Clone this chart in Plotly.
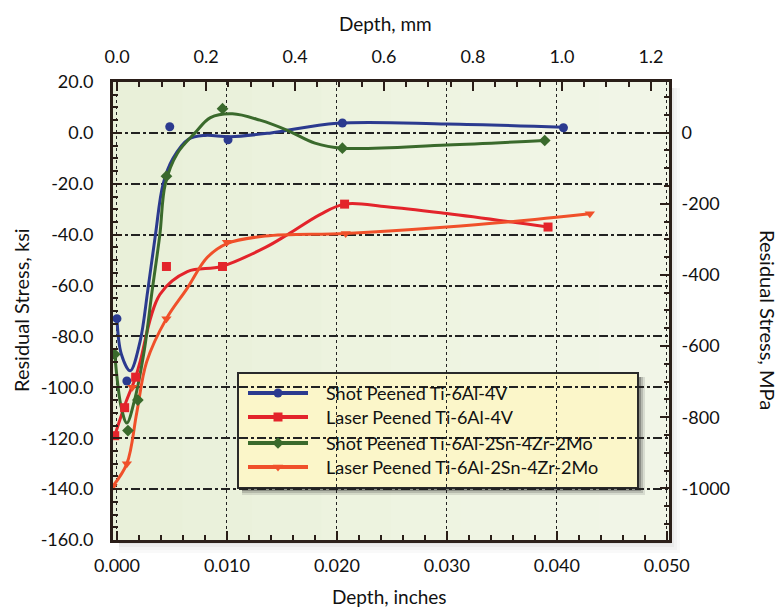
import plotly.graph_objects as go

# ---------------- data (depth in inches, residual stress in ksi) ----------------
names = ["Shot Peened Ti-6Al-4V", "Laser Peened Ti-6Al-4V",
         "Shot Peened Ti-6Al-2Sn-4Zr-2Mo", "Laser Peened Ti-6Al-2Sn-4Zr-2Mo"]
colors = ["#2b3a8f", "#e3242b", "#3a6a2c", "#f0502a"]
symbols = ["circle", "square", "diamond", "triangle-down"]

# measured points
sp64_x = [0.0000, 0.0009, 0.0048, 0.0101, 0.0205, 0.0406]
sp64_y = [-73.0, -97.5, 2.4, -2.7, 3.9, 2.0]
lp64_x = [-0.0002, 0.0007, 0.0017, 0.0045, 0.0096, 0.0207, 0.0392]
lp64_y = [-119.0, -108.0, -96.0, -52.5, -52.5, -28.0, -37.0]
sp6242_x = [-0.0002, 0.0010, 0.0019, 0.0045, 0.0096, 0.0205, 0.0389]
sp6242_y = [-87.0, -117.0, -105.0, -17.0, 9.5, -6.0, -3.0]
lp6242_x = [-0.0004, 0.0009, 0.0014, 0.0045, 0.0100, 0.0208, 0.0430]
lp6242_y = [-139.0, -130.0, -100.0, -73.0, -43.0, -39.5, -31.8]

# fitted curves as drawn in the figure
sp64_cx = [0.0000, 0.0004, 0.0012, 0.0021, 0.0028, 0.0035, 0.0042, 0.0051, 0.0065, 0.0080, 0.0103, 0.0140, 0.0200, 0.0300, 0.0406]
sp64_cy = [-73.0, -87.0, -93.5, -82.0, -62.0, -40.0, -20.0, -10.0, -2.5, -1.0, -1.5, 0.0, 3.8, 3.5, 2.2]
lp64_cx = [-0.0002, 0.0008, 0.0017, 0.0021, 0.0039, 0.0064, 0.0095, 0.0135, 0.0155, 0.0185, 0.0207, 0.0245, 0.0300, 0.0392]
lp64_cy = [-119.0, -106.0, -96.0, -90.0, -63.5, -54.5, -52.5, -45.0, -40.0, -32.0, -28.0, -29.0, -31.7, -37.0]
sp6242_cx = [-0.0002, 0.0004, 0.0009, 0.0016, 0.0025, 0.0032, 0.0039, 0.0044, 0.0055, 0.0071, 0.0085, 0.0105, 0.0130, 0.0155, 0.0180, 0.0205, 0.0300, 0.0389]
sp6242_cy = [-87.0, -108.0, -114.0, -105.0, -85.0, -62.0, -40.0, -20.0, -8.0, 0.0, 6.0, 7.5, 5.0, 1.0, -4.0, -6.0, -4.8, -3.0]
lp6242_cx = [-0.0004, 0.0009, 0.0018, 0.0027, 0.0045, 0.0064, 0.0082, 0.0100, 0.0135, 0.0208, 0.0300, 0.0380, 0.0430]
lp6242_cy = [-139.0, -130.0, -110.0, -90.0, -73.0, -61.0, -49.0, -43.5, -40.5, -39.5, -37.0, -34.0, -31.8]

pts_x = [sp64_x, lp64_x, sp6242_x, lp6242_x]
pts_y = [sp64_y, lp64_y, sp6242_y, lp6242_y]
crv_x = [sp64_cx, lp64_cx, sp6242_cx, lp6242_cx]
crv_y = [sp64_cy, lp64_cy, sp6242_cy, lp6242_cy]

in_ticks = [0.0, 0.01, 0.02, 0.03, 0.04, 0.05]
mm_ticks = [0.0, 0.2, 0.4, 0.6, 0.8, 1.0, 1.2]
ksi_ticks = [20, 0, -20, -40, -60, -80, -100, -120, -140, -160]
mpa_ticks = [0, -200, -400, -600, -800, -1000]

FONT = "Lato"
OFF = 8  # page body margin of the browser
W, H = 783 - OFF, 607 - OFF
# plot area in screen pixels: x 113..669, y 82..540
ML, MT = 113 - OFF, 82 - OFF
MR, MB = W - (669 - OFF), H - (540 - OFF)
PW, PH = W - ML - MR, H - MT - MB


def px(xs):  # screen pixel x -> paper
    return (xs - OFF - ML) / PW


def py(ys):  # screen pixel y -> paper
    return (H - MB - (ys - OFF)) / PH


fig = go.Figure()

# curves
for i in range(4):
    fig.add_trace(go.Scatter(x=crv_x[i], y=crv_y[i], mode="lines",
                             line=dict(color=colors[i], width=3, shape="spline", smoothing=1.0),
                             showlegend=False, hoverinfo="skip"))
# points
for i in range(4):
    fig.add_trace(go.Scatter(x=pts_x[i], y=pts_y[i], mode="markers", name=names[i],
                             marker=dict(color=colors[i], symbol=symbols[i], size=9),
                             showlegend=False))

# dummy traces to activate the secondary axes
fig.add_trace(go.Scatter(x=[None], y=[None], xaxis="x2", yaxis="y", showlegend=False))
fig.add_trace(go.Scatter(x=[None], y=[None], xaxis="x", yaxis="y2", showlegend=False))

axis_col = "#2a1e18"
tickfont = dict(family=FONT, size=18, color="#111")

shapes = []
# soft shadow around plot
for k, a in enumerate([0.035, 0.045, 0.055, 0.065]):
    d = 3 * (k + 1)
    shapes.append(dict(type="rect", xref="paper", yref="paper",
                       x0=px(113 + 6), x1=px(669 + 14 - d), y0=py(540 + 16 - d), y1=py(82 + 6),
                       fillcolor=f"rgba(90,90,90,{a})", line=dict(width=0), layer="below"))
# plot background: faint horizontal gradient, greener at left
bg_strips = ["#e9f0d9", "#eaf1db", "#ebf2dd", "#edf3df", "#eef4e1", "#eff4e3", "#f0f5e5", "#f1f5e7"]
n = len(bg_strips)
for k, c in enumerate(bg_strips):
    shapes.append(dict(type="rect", xref="paper", yref="paper", x0=k / n, x1=(k + 1) / n + 0.002,
                       y0=0, y1=1, fillcolor=c, line=dict(width=0), layer="below"))

# manual legend box (screen pixel layout)
LX0, LX1, LY0, LY1 = 238, 638, 373, 488
for k, a in enumerate([0.12, 0.18, 0.3]):
    d = 7 - 2 * k
    shapes.append(dict(type="rect", xref="paper", yref="paper",
                       x0=px(LX0 + 4), x1=px(LX1 + d), y0=py(LY1 + d), y1=py(LY0 + 4),
                       fillcolor=f"rgba(40,40,40,{a})", line=dict(width=0), layer="between"))
shapes.append(dict(type="rect", xref="paper", yref="paper",
                   x0=px(LX0), x1=px(LX1), y0=py(LY1), y1=py(LY0),
                   fillcolor="#fbf6c9", line=dict(color="#2a2a2a", width=2), layer="between"))
entry_y = [393, 417, 443, 467]
annotations = []
for i in range(4):
    shapes.append(dict(type="line", xref="paper", yref="paper",
                       x0=px(248), x1=px(308), y0=py(entry_y[i]), y1=py(entry_y[i]),
                       line=dict(color=colors[i], width=4), layer="between"))
    annotations.append(dict(text=names[i], xref="paper", yref="paper", x=px(324), y=py(entry_y[i]),
                            xanchor="left", yanchor="middle", showarrow=False,
                            font=dict(family=FONT, size=18, color="#111")))
# legend markers on an overlay axis in paper-like units
fig.add_trace(go.Scatter(x=[px(278)] * 4, y=[py(v) for v in entry_y], xaxis="x3", yaxis="y3",
                         mode="markers", showlegend=False, hoverinfo="skip",
                         marker=dict(color=colors, symbol=symbols, size=9)))

annotations += [
    dict(text="Depth, mm", xref="paper", yref="paper", x=px(385), y=py(23),
         xanchor="center", yanchor="middle", showarrow=False, font=dict(family=FONT, size=19)),
    dict(text="Depth, inches", xref="paper", yref="paper", x=px(389), y=py(596),
         xanchor="center", yanchor="middle", showarrow=False, font=dict(family=FONT, size=19)),
    dict(text="Residual Stress, ksi", xref="paper", yref="paper", x=px(21), y=py(310),
         xanchor="center", yanchor="middle", textangle=-90, showarrow=False,
         font=dict(family=FONT, size=20)),
    dict(text="Residual Stress, MPa", xref="paper", yref="paper", x=px(768), y=py(320),
         xanchor="center", yanchor="middle", textangle=90, showarrow=False,
         font=dict(family=FONT, size=20)),
]

fig.update_layout(
    width=W, height=H,
    margin=dict(l=ML, r=MR, t=MT, b=MB, autoexpand=False),
    paper_bgcolor="white", plot_bgcolor="rgba(0,0,0,0)",
    font=dict(family=FONT, color="#111"),
    showlegend=False,
    shapes=shapes,
    annotations=annotations,
    xaxis=dict(range=[-0.00036, 0.0502], tickvals=in_ticks, ticktext=[f"{v:.3f}" for v in in_ticks],
               showgrid=True, gridcolor="#222", gridwidth=1.3, griddash="dot",
               zeroline=False, showline=True, linecolor=axis_col, linewidth=3,
               ticks="inside", ticklen=9, tickwidth=1.5, tickcolor=axis_col,
               minor=dict(dtick=0.002, ticks="inside", ticklen=5, tickcolor=axis_col, showgrid=False),
               tickfont=tickfont, ticklabelstandoff=7, automargin=False),
    xaxis2=dict(overlaying="x", side="top", range=[-0.009, 1.2405], tickvals=mm_ticks,
                ticktext=[f"{v:.1f}" for v in mm_ticks], showgrid=False, zeroline=False,
                showline=True, linecolor=axis_col, linewidth=3,
                ticks="inside", ticklen=9, tickwidth=1.5, tickcolor=axis_col,
                minor=dict(dtick=0.05, ticks="inside", ticklen=5, tickcolor=axis_col, showgrid=False),
                tickfont=tickfont, ticklabelstandoff=9, automargin=False),
    xaxis3=dict(overlaying="x", range=[0, 1], visible=False, fixedrange=True, automargin=False),
    yaxis=dict(range=[-160, 20], tickvals=ksi_ticks, ticktext=[f"{v:.1f}" for v in ksi_ticks],
               showgrid=True, gridcolor="#222", gridwidth=1.5, griddash="dashdot",
               zeroline=False, showline=True, linecolor=axis_col, linewidth=3,
               ticks="inside", ticklen=9, tickwidth=1.5, tickcolor=axis_col,
               minor=dict(dtick=5, ticks="inside", ticklen=5, tickcolor=axis_col, showgrid=False),
               tickfont=tickfont, ticklabelstandoff=13, automargin=False),
    yaxis2=dict(overlaying="y", side="right", range=[-1145, 142], tickvals=mpa_ticks,
                ticktext=[str(v) for v in mpa_ticks], showgrid=False, zeroline=False,
                showline=True, linecolor=axis_col, linewidth=3,
                ticks="inside", ticklen=9, tickwidth=1.5, tickcolor=axis_col,
                minor=dict(dtick=50, ticks="inside", ticklen=5, tickcolor=axis_col, showgrid=False),
                tickfont=tickfont, ticklabelstandoff=6, automargin=False),
    yaxis3=dict(overlaying="y", range=[0, 1], visible=False, fixedrange=True, automargin=False),
)

fig.write_html("out.html")
